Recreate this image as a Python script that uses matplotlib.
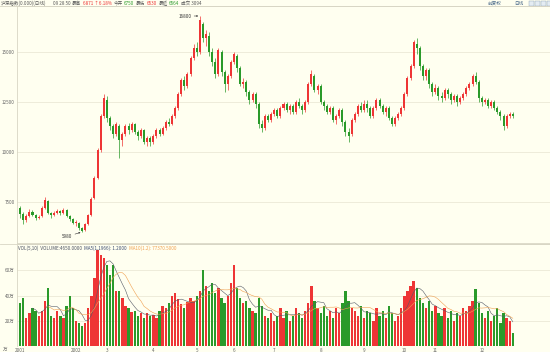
import matplotlib
matplotlib.use("Agg")
import matplotlib.pyplot as plt
from matplotlib.patches import Rectangle
from matplotlib.lines import Line2D
import pandas as pd

plt.rcParams['font.family'] = ['Noto Sans CJK SC', 'DejaVu Sans']

# daily candles (price) and volume (万手)
opens = [7200, 6900, 6600, 6800, 7000, 6850, 6700, 6800, 7200, 7550,
         6950, 6850, 6950, 7050, 6950, 7100, 6800, 6650, 6450, 6450,
         6200, 6100, 6400, 6850, 7700, 8700, 10100, 11800, 12600,
         11700, 11300, 10900, 11300, 10600, 10900, 11300, 11100, 11400, 11000, 10800,
         11100, 10500, 10700, 10500, 10800, 11100, 10900, 11200, 11500, 11400, 11800,
         12200, 12900, 13600, 13300, 13900, 14700, 15200, 15000,
         16400, 15700, 15800, 15000, 14500, 13900, 15000, 14000, 13400, 13800, 14500,
         14800, 14200, 13400, 13500, 13000, 12600, 12900, 12400, 11400, 11200, 11800,
         11600, 11900, 12100, 11800, 12200, 12400, 12100, 12300, 12000, 12500, 12300, 12100, 12500,
         13400, 13800, 13100, 13300, 12500, 12300, 12000, 12200, 11600, 11800, 12100, 11500, 11000,
         10900, 11600, 11900, 12300, 12100, 12400, 12200, 11800, 12200, 12600, 12300, 12000, 12200, 11700, 11400, 11700, 11900,
         12200, 12900, 13700, 14300, 15400, 15200, 14300, 13800, 14100, 13400, 13000, 13200,
         12800, 12700, 13100, 12900, 12600, 12800, 12500, 12700, 12900, 13200, 13400, 13800, 13500,
         12700, 12500, 12600, 12300, 12500, 12200, 12000, 11800, 11300, 11800, 11900]
closes = [6900, 6600, 6800, 7000, 6850, 6700, 6750, 7200, 7600, 6950,
          6850, 6950, 7050, 6950, 7100, 6800, 6650, 6450, 6500, 6200,
          6050, 6400, 6850, 7650, 8700, 10100, 11800, 12700, 11700,
          11300, 10900, 11400, 10600, 10900, 11300, 11100, 11400, 11000, 10800, 11100,
          10500, 10700, 10500, 10800, 11100, 10900, 11200, 11500, 11400, 11800, 12200,
          12900, 13600, 13300, 13900, 14700, 15200, 15000, 16600,
          15700, 15900, 15000, 14500, 13900, 15100, 14000, 13400, 13800, 14500, 14900,
          14200, 13400, 13500, 13000, 12600, 12900, 12400, 11400, 11200, 11800, 11600,
          11900, 12100, 11800, 12200, 12400, 12100, 12300, 12000, 12500, 12300, 12100, 12500, 13400,
          13900, 13100, 13300, 12500, 12300, 12000, 12200, 11600, 11800, 12100, 11500, 11000, 10800,
          11600, 11900, 12300, 12100, 12400, 12200, 11800, 12200, 12600, 12300, 12000, 12200, 11700, 11400, 11700, 11900, 12200,
          12900, 13700, 14300, 15500, 15200, 14300, 13800, 14100, 13400, 13000, 13200, 12800,
          12700, 13100, 12900, 12600, 12800, 12500, 12700, 12900, 13200, 13400, 13800, 13500, 12700,
          12500, 12600, 12300, 12500, 12200, 12000, 11800, 11300, 11800, 11900, 11800]
highs = [7300, 7000, 6900, 7150, 7100, 6900, 6850, 7300, 7750, 7600,
         7000, 7050, 7150, 7100, 7200, 7150, 6850, 6700, 6600, 6500,
         6250, 6450, 6900, 7750, 8800, 10200, 11900, 12900, 12800,
         11800, 11400, 11500, 11400, 11000, 11400, 11450, 11500, 11450, 11100, 11200,
         11150, 10800, 10800, 10900, 11200, 11200, 11300, 11600, 11700, 11900, 12300,
         13000, 13700, 13800, 14000, 14800, 15400, 15500, 16800,
         16500, 16100, 16000, 15200, 14700, 15200, 15100, 14100, 13900, 14600, 15000,
         14900, 14300, 13700, 13600, 13100, 13000, 13000, 12500, 11600, 11900, 11900,
         12000, 12200, 12200, 12300, 12500, 12500, 12400, 12400, 12600, 12700, 12400, 12600, 13500,
         14100, 13900, 13400, 13400, 12600, 12400, 12300, 12300, 11900, 12200, 12200, 11600, 11200,
         11700, 12000, 12400, 12500, 12600, 12600, 12300, 12300, 12700, 12700, 12400, 12300, 12300, 11800, 11800, 12000, 12300,
         13000, 13800, 14400, 15600, 15700, 15300, 14400, 14200, 14200, 13500, 13400, 13300,
         13000, 13200, 13200, 13000, 12900, 12900, 12800, 13000, 13300, 13500, 13900, 14000, 13600,
         12800, 12700, 12700, 12600, 12600, 12300, 12100, 11900, 11900, 12000, 12000]
lows = [6700, 6400, 6500, 6750, 6800, 6600, 6650, 6750, 7150, 6900,
        6700, 6800, 6900, 6850, 6900, 6750, 6550, 6400, 6300, 6100,
        5980, 6050, 6350, 6800, 7650, 8650, 10000, 11700, 11500,
        11100, 10700, 10800, 9700, 10300, 10800, 10900, 11000, 10900, 10600, 10700,
        10400, 10300, 10300, 10400, 10700, 10800, 10850, 11100, 11300, 11350, 11700,
        12100, 12800, 13100, 13200, 13800, 14600, 14800, 14900,
        15500, 15300, 14800, 14300, 13700, 13800, 13800, 13000, 13100, 13700, 14400,
        14000, 13300, 13200, 12800, 12400, 12500, 12200, 11200, 11000, 11100, 11500,
        11500, 11800, 11700, 11700, 12100, 12000, 11900, 11900, 11900, 12200, 11900, 12000, 12400,
        13300, 13000, 12900, 12400, 12100, 11900, 11900, 11500, 11400, 11700, 11300, 10800, 10500,
        10800, 11500, 11800, 12000, 12000, 12000, 11700, 11700, 12100, 12200, 11900, 11800, 11600, 11300, 11300, 11600, 11800,
        12100, 12800, 13600, 14200, 14900, 14100, 13600, 13600, 13200, 12800, 12900, 12600,
        12500, 12600, 12700, 12400, 12500, 12300, 12400, 12600, 12800, 13100, 13300, 13400, 12500,
        12300, 12400, 12200, 12200, 12100, 11900, 11600, 11100, 11200, 11700, 11700]
volumes = [34, 38, 22, 26, 30, 28, 24, 28, 36, 46,
           24, 22, 28, 24, 22, 32, 40, 30, 20, 18,
           16, 18, 30, 40, 54, 76, 72, 70, 64,
           56, 64, 44, 44, 38, 32, 30, 27, 28, 24, 26,
           22, 26, 24, 25, 22, 28, 32, 30, 34, 40, 42,
           37, 33, 30, 35, 38, 36, 40, 44,
           60, 48, 44, 50, 42, 46, 38, 34, 40, 50, 64,
           46, 38, 34, 36, 30, 28, 26, 38, 32, 24, 22,
           26, 20, 24, 30, 22, 28, 20, 24, 30, 26, 22, 28, 34,
           48, 36, 30, 26, 32, 24, 28, 22, 30, 26, 34, 44, 36,
           30, 28, 24, 32, 22, 28, 26, 20, 30, 24, 28, 22, 32, 26, 20, 24, 30,
           40, 44, 48, 52, 46, 38, 34, 30, 36, 28, 32, 26,
           24, 30, 22, 28, 20, 26, 24, 30, 28, 32, 36, 45, 34,
           26, 22, 28, 20, 24, 30, 18, 26, 22, 20, 10]

month_idx = [0, 18, 28, 43, 57, 69, 82, 97, 111, 124, 134, 149]
month_labels = ["2001", "2002", "3", "4", "5", "6", "7", "8", "9", "10", "11", "12"]
price_ticks = [7500, 10000, 12500, 15000]
price_labels = ["7500", "10000", "12500", "15000"]
vol_ticks = [20, 40, 60]
vol_labels = ["20万", "40万", "60万"]

RED = "#ee3535"
GREEN = "#2a9a2a"
BG = "#fffff0"
GRID = "#ebe9d6"
EDGE = "#d8d6c4"
TXT = "#666666"
FS = 3.3

df = pd.DataFrame({'open': opens, 'high': highs, 'low': lows,
                   'close': closes, 'vol': volumes})
df['up'] = df['close'] >= df['open']
df['color'] = df['up'].map({True: RED, False: GREEN})
df['ma5'] = df['vol'].rolling(5).mean()
df['ma10'] = df['vol'].rolling(10).mean()
x = df.index.values

fig = plt.figure(figsize=(5.5, 3.52), dpi=100, facecolor=BG)
ax = fig.add_axes([17 / 550, 1 - 243 / 352, 533 / 550, 237 / 352], facecolor=BG)
axv = fig.add_axes([17 / 550, 1 - 346 / 352, 533 / 550, 102 / 352], facecolor=BG)
renderer = fig.canvas.get_renderer()


def text_row(x0, y, parts, gap=1.5):
    """Put coloured pieces of text one after another (x, y in figure pixels)."""
    xp = x0
    for s, c in parts:
        t = fig.text(xp / 550, 1 - y / 352, s, fontsize=FS, color=c, va='center')
        bb = t.get_window_extent(renderer)
        xp = bb.x1 + gap


# candles
ax.vlines(x, df['low'], df['high'], colors=df['color'], linewidth=0.5)
body_lo = df[['open', 'close']].min(axis=1)
body_h = (df['close'] - df['open']).abs().clip(lower=40)
ax.bar(x, body_h, bottom=body_lo, width=0.65, color=df['color'], linewidth=0)

ax.set_xlim(-1, 171)
ax.set_ylim(5450, 17300)
ax.set_yticks(price_ticks)
ax.set_yticklabels(price_labels)
ax.set_xticks([])
ax.grid(axis='y', color=GRID, linewidth=0.6)
ax.set_axisbelow(True)

# high / low marks
hi = df['high'].idxmax()
lo = df['low'].idxmin()
arrow = dict(arrowstyle='->', lw=0.4, color='#333333', mutation_scale=2.5,
             shrinkA=0, shrinkB=0)
ax.annotate(f"{df['high'][hi]}", xy=(hi - 0.5, df['high'][hi]), xytext=(-5, 0),
            textcoords='offset points', ha='right', va='center', fontsize=FS,
            color='#333333', arrowprops=arrow)
ax.annotate(f"{df['low'][lo]}", xy=(lo - 0.5, df['low'][lo]), xytext=(-6, -3),
            textcoords='offset points', ha='right', va='center', fontsize=FS,
            color='#333333', arrowprops=arrow)

# volume
axv.bar(x, df['vol'], width=0.75, color=df['color'], linewidth=0)
axv.plot(x, df['ma5'], color='#555a66', linewidth=0.4)
axv.plot(x, df['ma10'], color='#f0a050', linewidth=0.4)
axv.set_xlim(-1, 171)
axv.set_ylim(0, 81)
axv.set_yticks(vol_ticks)
axv.set_yticklabels(vol_labels)
axv.set_xticks(month_idx)
axv.set_xticklabels(month_labels)
axv.grid(axis='y', color=GRID, linewidth=0.6)
axv.set_axisbelow(True)

for a in (ax, axv):
    a.tick_params(length=0, labelsize=FS, colors=TXT, pad=1.5)
    for s in a.spines.values():
        s.set_color(EDGE)
        s.set_linewidth(0.6)
    a.spines['right'].set_visible(False)
axv.spines['bottom'].set_visible(False)

# full-width separators (header / price / volume)
for yy in (6, 244):
    fig.lines.append(Line2D([0, 1], [1 - yy / 352] * 2, transform=fig.transFigure,
                            color=EDGE, linewidth=0.6))

# volume legend
text_row(18, 248.5, [("VOL(5,10)  VOLUME:4650.0000", '#4a5060'),
                     ("MA5(1,1966): 1.2000", '#3a4a70'),
                     ("MA10(1.2): 77370.5000", '#f0a050')], gap=2)
fig.text(3 / 550, 1 - 349 / 352, "万", fontsize=FS, color=TXT, va='center')

# header
text_row(1, 3.2, [("沪深指数(0.000)(日线)", '#555555')])
text_row(53, 3.2, [("09 28 50", '#555555'), ("最高", '#555555'),
                   ("6871 ↑6.18%", RED), ("今开", '#555555'), ("6750", GREEN),
                   ("最低", '#555555'), ("6530", RED), ("最近", '#555555'),
                   ("6564", GREEN), ("成交 3094", '#555555')])
text_row(488, 3.2, [("前复权", '#4a6a8a')])
text_row(514, 3.2, [("日线", '#4a6a8a')])
for bx in (529, 535, 541, 547):
    fig.patches.append(Rectangle((bx / 550, 1 - 5.8 / 352), 4.5 / 550, 5 / 352,
                                 transform=fig.transFigure, facecolor='#e4ecf2',
                                 edgecolor='#8aa0b4', linewidth=0.3))

fig.savefig("out.png", dpi=100, facecolor=BG)
